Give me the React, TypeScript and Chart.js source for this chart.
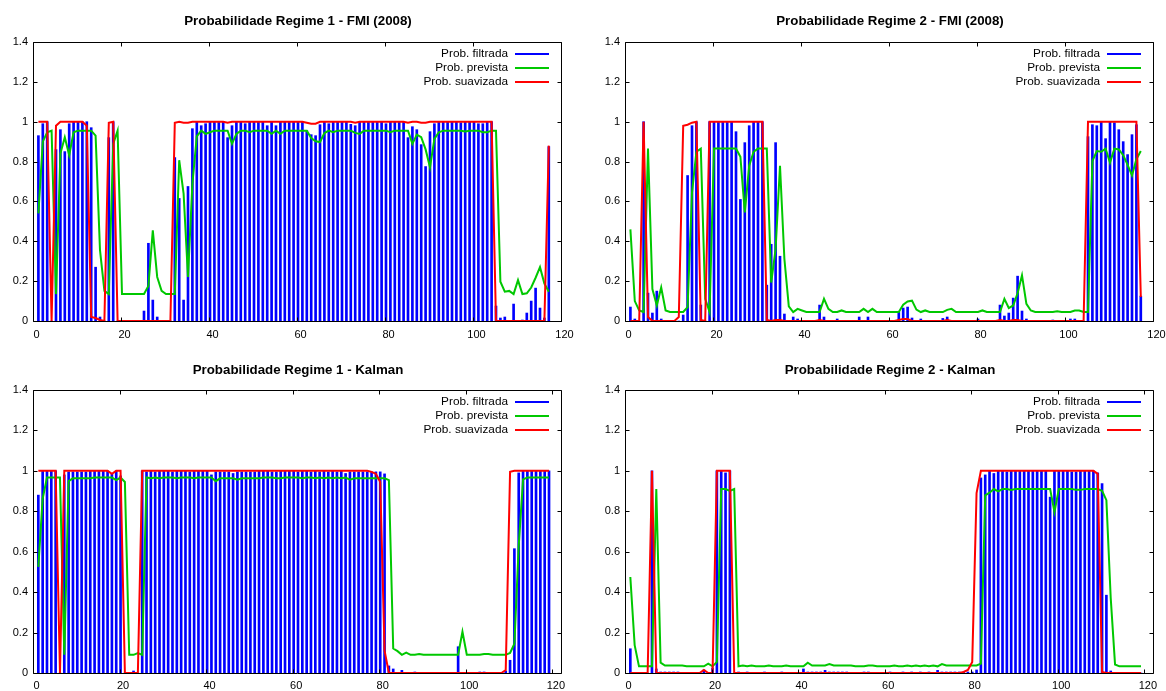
import React, { useEffect, useRef } from "react";
import { Chart, registerables } from "chart.js";

Chart.register(...registerables);

// ---------------- data ----------------
const SERIES_LABELS = ["Prob. filtrada", "Prob. prevista", "Prob. suavizada"];
const X_TICKS = [0, 20, 40, 60, 80, 100, 120];
const Y_TICKS = [0, 0.2, 0.4, 0.6, 0.8, 1, 1.2, 1.4];
const FMI_X_MAX = 120;
const KALMAN_X_MAX = 122;

const TITLE_FMI_R1 = "Probabilidade Regime 1 - FMI (2008)";
const TITLE_FMI_R2 = "Probabilidade Regime 2 - FMI (2008)";
const TITLE_KALMAN_R1 = "Probabilidade Regime 1 - Kalman";
const TITLE_KALMAN_R2 = "Probabilidade Regime 2 - Kalman";

// FMI (2008) - regime 1
const FMI_R1_FILTRADA = [
  0.93, 0.99, 1.0, 0.0, 0.86, 0.96, 0.85, 0.99, 1.0, 1.0,
  1.0, 1.0, 0.97, 0.27, 0.02, 0.0, 0.92, 1.0, 0.0, 0.0,
  0.0, 0.0, 0.0, 0.0, 0.05, 0.39, 0.105, 0.02, 0.0, 0.0,
  0.0, 0.82, 0.615, 0.105, 0.675, 0.965, 1.0, 0.98, 0.99, 1.0,
  1.0, 1.0, 1.0, 0.92, 0.98, 1.0, 1.0, 0.99, 1.0, 1.0,
  1.0, 1.0, 0.98, 1.0, 0.98, 1.0, 1.0, 1.0, 1.0, 1.0,
  1.0, 0.955, 0.935, 0.93, 0.985, 1.0, 0.99, 1.0, 1.0, 1.0,
  1.0, 0.987, 0.98, 1.0, 1.0, 1.0, 1.0, 1.0, 1.0, 0.99,
  1.0, 1.0, 1.0, 1.0, 0.92, 0.975, 0.96, 0.885, 0.775, 0.95,
  0.99, 1.0, 1.0, 1.0, 1.0, 1.0, 0.995, 1.0, 1.0, 1.0,
  0.99, 0.99, 1.0, 1.0, 0.075, 0.015, 0.02, 0.0, 0.085, 0.0,
  0.005, 0.04, 0.1, 0.165, 0.065, 0.015, 0.875,
];
const FMI_R1_PREVISTA = [
  0.54, 0.9, 0.947, 0.955, 0.135, 0.84, 0.922, 0.832, 0.947, 0.955,
  0.955, 0.955, 0.955, 0.93, 0.356, 0.151, 0.135, 0.889, 0.955, 0.135,
  0.135, 0.135, 0.135, 0.135, 0.135, 0.176, 0.455, 0.221, 0.151, 0.135,
  0.135, 0.135, 0.807, 0.639, 0.221, 0.689, 0.926, 0.955, 0.939, 0.947,
  0.955, 0.955, 0.955, 0.955, 0.889, 0.939, 0.955, 0.955, 0.947, 0.955,
  0.955, 0.955, 0.955, 0.939, 0.955, 0.939, 0.955, 0.955, 0.955, 0.955,
  0.955, 0.955, 0.918, 0.902, 0.898, 0.943, 0.955, 0.947, 0.955, 0.955,
  0.955, 0.955, 0.944, 0.939, 0.955, 0.955, 0.955, 0.955, 0.955, 0.955,
  0.947, 0.955, 0.955, 0.955, 0.955, 0.889, 0.935, 0.922, 0.861, 0.771,
  0.914, 0.947, 0.955, 0.955, 0.955, 0.955, 0.955, 0.951, 0.955, 0.955,
  0.955, 0.947, 0.947, 0.955, 0.955, 0.197, 0.147, 0.151, 0.135, 0.205,
  0.135, 0.139, 0.168, 0.217, 0.27, 0.188, 0.147,
];
const FMI_R1_SUAVIZADA = [
  1.0, 1.0, 1.0, 0.0, 0.98, 1.0, 1.0, 1.0, 1.0, 1.0,
  1.0, 0.98, 0.02, 0.015, 0.005, 0.0, 0.995, 1.0, 0.0, 0.0,
  0.0, 0.0, 0.0, 0.0, 0.0, 0.0, 0.0, 0.0, 0.0, 0.0,
  0.0, 0.995, 1.0, 0.995, 0.995, 1.0, 1.0, 1.0, 1.0, 1.0,
  1.0, 1.0, 1.0, 0.995, 1.0, 1.0, 1.0, 1.0, 1.0, 1.0,
  1.0, 1.0, 1.0, 1.0, 1.0, 1.0, 1.0, 1.0, 1.0, 1.0,
  1.0, 0.995, 0.99, 0.99, 1.0, 1.0, 1.0, 1.0, 1.0, 1.0,
  1.0, 1.0, 0.995, 1.0, 1.0, 1.0, 1.0, 1.0, 1.0, 1.0,
  1.0, 1.0, 1.0, 1.0, 0.995, 1.0, 1.0, 0.995, 0.995, 1.0,
  1.0, 1.0, 1.0, 1.0, 1.0, 1.0, 1.0, 1.0, 1.0, 1.0,
  1.0, 1.0, 1.0, 1.0, 0.0, 0.0, 0.0, 0.0, 0.0, 0.0,
  0.0, 0.0, 0.0, 0.0, 0.0, 0.0, 0.88,
];

// FMI (2008) - regime 2
const FMI_R2_FILTRADA = [
  0.07, 0.01, 0.0, 1.0, 0.14, 0.04, 0.15, 0.01, 0.0, 0.0,
  0.0, 0.0, 0.03, 0.73, 0.98, 1.0, 0.08, 0.0, 1.0, 1.0,
  1.0, 1.0, 1.0, 1.0, 0.95, 0.61, 0.895, 0.98, 1.0, 1.0,
  1.0, 0.18, 0.385, 0.895, 0.325, 0.035, 0.0, 0.02, 0.01, 0.0,
  0.0, 0.0, 0.0, 0.08, 0.02, 0.0, 0.0, 0.01, 0.0, 0.0,
  0.0, 0.0, 0.02, 0.0, 0.02, 0.0, 0.0, 0.0, 0.0, 0.0,
  0.0, 0.045, 0.065, 0.07, 0.015, 0.0, 0.01, 0.0, 0.0, 0.0,
  0.0, 0.013, 0.02, 0.0, 0.0, 0.0, 0.0, 0.0, 0.0, 0.01,
  0.0, 0.0, 0.0, 0.0, 0.08, 0.025, 0.04, 0.115, 0.225, 0.05,
  0.01, 0.0, 0.0, 0.0, 0.0, 0.0, 0.005, 0.0, 0.0, 0.0,
  0.01, 0.01, 0.0, 0.0, 0.925, 0.985, 0.98, 1.0, 0.915, 1.0,
  0.995, 0.96, 0.9, 0.835, 0.935, 0.985, 0.125,
];
const FMI_R2_PREVISTA = [
  0.46, 0.1, 0.053, 0.045, 0.865, 0.16, 0.078, 0.168, 0.053, 0.045,
  0.045, 0.045, 0.045, 0.07, 0.644, 0.849, 0.865, 0.111, 0.045, 0.865,
  0.865, 0.865, 0.865, 0.865, 0.865, 0.824, 0.545, 0.779, 0.849, 0.865,
  0.865, 0.865, 0.193, 0.361, 0.779, 0.311, 0.074, 0.045, 0.061, 0.053,
  0.045, 0.045, 0.045, 0.045, 0.111, 0.061, 0.045, 0.045, 0.053, 0.045,
  0.045, 0.045, 0.045, 0.061, 0.045, 0.061, 0.045, 0.045, 0.045, 0.045,
  0.045, 0.045, 0.082, 0.098, 0.102, 0.057, 0.045, 0.053, 0.045, 0.045,
  0.045, 0.045, 0.056, 0.061, 0.045, 0.045, 0.045, 0.045, 0.045, 0.045,
  0.053, 0.045, 0.045, 0.045, 0.045, 0.111, 0.065, 0.078, 0.139, 0.229,
  0.086, 0.053, 0.045, 0.045, 0.045, 0.045, 0.045, 0.049, 0.045, 0.045,
  0.045, 0.053, 0.053, 0.045, 0.045, 0.803, 0.853, 0.849, 0.865, 0.795,
  0.865, 0.861, 0.832, 0.783, 0.73, 0.812, 0.853,
];
const FMI_R2_SUAVIZADA = [
  0.0, 0.0, 0.0, 1.0, 0.02, 0.0, 0.0, 0.0, 0.0, 0.0,
  0.0, 0.02, 0.98, 0.985, 0.995, 1.0, 0.005, 0.0, 1.0, 1.0,
  1.0, 1.0, 1.0, 1.0, 1.0, 1.0, 1.0, 1.0, 1.0, 1.0,
  1.0, 0.005, 0.0, 0.005, 0.005, 0.0, 0.0, 0.0, 0.0, 0.0,
  0.0, 0.0, 0.0, 0.005, 0.0, 0.0, 0.0, 0.0, 0.0, 0.0,
  0.0, 0.0, 0.0, 0.0, 0.0, 0.0, 0.0, 0.0, 0.0, 0.0,
  0.0, 0.005, 0.01, 0.01, 0.0, 0.0, 0.0, 0.0, 0.0, 0.0,
  0.0, 0.0, 0.005, 0.0, 0.0, 0.0, 0.0, 0.0, 0.0, 0.0,
  0.0, 0.0, 0.0, 0.0, 0.005, 0.0, 0.0, 0.005, 0.005, 0.0,
  0.0, 0.0, 0.0, 0.0, 0.0, 0.0, 0.0, 0.0, 0.0, 0.0,
  0.0, 0.0, 0.0, 0.0, 1.0, 1.0, 1.0, 1.0, 1.0, 1.0,
  1.0, 1.0, 1.0, 1.0, 1.0, 1.0, 0.12,
];

// Kalman - regime 1
const KALMAN_R1_FILTRADA = [
  0.88, 1.0, 1.0, 1.0, 1.0, 0.0, 0.98, 0.995, 0.995, 0.995,
  0.995, 0.995, 1.0, 1.0, 1.0, 1.0, 1.0, 0.985, 1.0, 0.975,
  0.0, 0.0, 0.01, 0.0, 1.0, 0.995, 1.0, 0.995, 1.0, 1.0,
  1.0, 0.995, 1.0, 1.0, 1.0, 0.995, 1.0, 1.0, 1.0, 1.0,
  0.98, 0.995, 0.995, 0.995, 0.995, 0.987, 0.995, 0.995, 0.995, 0.995,
  0.995, 1.0, 1.0, 1.0, 0.995, 0.995, 1.0, 1.0, 1.0, 1.0,
  0.995, 1.0, 1.0, 0.995, 1.0, 0.995, 1.0, 0.995, 1.0, 0.995,
  1.0, 0.987, 0.995, 0.995, 0.995, 0.995, 0.995, 0.995, 0.995, 0.995,
  0.985, 0.035, 0.02, 0.0, 0.013, 0.0, 0.0, 0.005, 0.0, 0.0,
  0.0, 0.0, 0.0, 0.0, 0.0, 0.0, 0.0, 0.13, 0.0, 0.0,
  0.0, 0.0, 0.005, 0.005, 0.0, 0.0, 0.0, 0.0, 0.01, 0.063,
  0.615, 0.99, 1.0, 1.0, 1.0, 1.0, 1.0, 1.0, 1.0,
];
const KALMAN_R1_PREVISTA = [
  0.525, 0.862, 0.967, 0.967, 0.967, 0.967, 0.09, 0.949, 0.963, 0.963,
  0.963, 0.963, 0.963, 0.967, 0.967, 0.967, 0.967, 0.967, 0.954, 0.967,
  0.945, 0.09, 0.09, 0.099, 0.09, 0.967, 0.963, 0.967, 0.963, 0.967,
  0.967, 0.967, 0.963, 0.967, 0.967, 0.967, 0.963, 0.967, 0.967, 0.967,
  0.967, 0.949, 0.963, 0.963, 0.963, 0.963, 0.956, 0.963, 0.963, 0.963,
  0.963, 0.963, 0.967, 0.967, 0.967, 0.963, 0.963, 0.967, 0.967, 0.967,
  0.967, 0.963, 0.967, 0.967, 0.963, 0.967, 0.963, 0.967, 0.963, 0.967,
  0.963, 0.967, 0.956, 0.963, 0.963, 0.963, 0.963, 0.963, 0.963, 0.963,
  0.963, 0.954, 0.121, 0.108, 0.09, 0.101, 0.09, 0.09, 0.094, 0.09,
  0.09, 0.09, 0.09, 0.09, 0.09, 0.09, 0.09, 0.09, 0.204, 0.09,
  0.09, 0.09, 0.09, 0.094, 0.094, 0.09, 0.09, 0.09, 0.09, 0.099,
  0.145, 0.629, 0.958, 0.967, 0.967, 0.967, 0.967, 0.967, 0.967,
];
const KALMAN_R1_SUAVIZADA = [
  1.0, 1.0, 1.0, 1.0, 1.0, 0.0, 1.0, 1.0, 1.0, 1.0,
  1.0, 1.0, 1.0, 1.0, 1.0, 1.0, 1.0, 0.985, 1.0, 1.0,
  0.0, 0.0, 0.0, 0.0, 1.0, 1.0, 1.0, 1.0, 1.0, 1.0,
  1.0, 1.0, 1.0, 1.0, 1.0, 1.0, 1.0, 1.0, 1.0, 1.0,
  1.0, 1.0, 1.0, 1.0, 1.0, 1.0, 1.0, 1.0, 1.0, 1.0,
  1.0, 1.0, 1.0, 1.0, 1.0, 1.0, 1.0, 1.0, 1.0, 1.0,
  1.0, 1.0, 1.0, 1.0, 1.0, 1.0, 1.0, 1.0, 1.0, 1.0,
  1.0, 1.0, 1.0, 1.0, 1.0, 1.0, 1.0, 0.995, 0.985, 0.945,
  0.11, 0.0, 0.0, 0.0, 0.0, 0.0, 0.0, 0.0, 0.0, 0.0,
  0.0, 0.0, 0.0, 0.0, 0.0, 0.0, 0.0, 0.0, 0.0, 0.0,
  0.0, 0.0, 0.0, 0.0, 0.0, 0.0, 0.0, 0.0, 0.015, 0.995,
  1.0, 1.0, 1.0, 1.0, 1.0, 1.0, 1.0, 1.0, 1.0,
];

// Kalman - regime 2
const KALMAN_R2_FILTRADA = [
  0.12, 0.0, 0.0, 0.0, 0.0, 1.0, 0.02, 0.005, 0.005, 0.005,
  0.005, 0.005, 0.0, 0.0, 0.0, 0.0, 0.0, 0.015, 0.0, 0.025,
  1.0, 1.0, 0.99, 1.0, 0.0, 0.005, 0.0, 0.005, 0.0, 0.0,
  0.0, 0.005, 0.0, 0.0, 0.0, 0.005, 0.0, 0.0, 0.0, 0.0,
  0.02, 0.005, 0.005, 0.005, 0.005, 0.013, 0.005, 0.005, 0.005, 0.005,
  0.005, 0.0, 0.0, 0.0, 0.005, 0.005, 0.0, 0.0, 0.0, 0.0,
  0.005, 0.0, 0.0, 0.005, 0.0, 0.005, 0.0, 0.005, 0.0, 0.005,
  0.0, 0.013, 0.005, 0.005, 0.005, 0.005, 0.005, 0.005, 0.005, 0.005,
  0.015, 0.965, 0.98, 1.0, 0.987, 1.0, 1.0, 0.995, 1.0, 1.0,
  1.0, 1.0, 1.0, 1.0, 1.0, 1.0, 1.0, 0.87, 1.0, 1.0,
  1.0, 1.0, 0.995, 0.995, 1.0, 1.0, 1.0, 1.0, 0.99, 0.937,
  0.385, 0.01, 0.0, 0.0, 0.0, 0.0, 0.0, 0.0, 0.0,
];
const KALMAN_R2_PREVISTA = [
  0.475, 0.138, 0.033, 0.033, 0.033, 0.033, 0.91, 0.051, 0.037, 0.037,
  0.037, 0.037, 0.037, 0.033, 0.033, 0.033, 0.033, 0.033, 0.046, 0.033,
  0.055, 0.91, 0.91, 0.901, 0.91, 0.033, 0.037, 0.033, 0.037, 0.033,
  0.033, 0.033, 0.037, 0.033, 0.033, 0.033, 0.037, 0.033, 0.033, 0.033,
  0.033, 0.051, 0.037, 0.037, 0.037, 0.037, 0.044, 0.037, 0.037, 0.037,
  0.037, 0.037, 0.033, 0.033, 0.033, 0.037, 0.037, 0.033, 0.033, 0.033,
  0.033, 0.037, 0.033, 0.033, 0.037, 0.033, 0.037, 0.033, 0.037, 0.033,
  0.037, 0.033, 0.044, 0.037, 0.037, 0.037, 0.037, 0.037, 0.037, 0.037,
  0.037, 0.046, 0.879, 0.892, 0.91, 0.899, 0.91, 0.91, 0.906, 0.91,
  0.91, 0.91, 0.91, 0.91, 0.91, 0.91, 0.91, 0.91, 0.796, 0.91,
  0.91, 0.91, 0.91, 0.906, 0.906, 0.91, 0.91, 0.91, 0.91, 0.901,
  0.855, 0.371, 0.042, 0.033, 0.033, 0.033, 0.033, 0.033, 0.033,
];
const KALMAN_R2_SUAVIZADA = [
  0.0, 0.0, 0.0, 0.0, 0.0, 1.0, 0.0, 0.0, 0.0, 0.0,
  0.0, 0.0, 0.0, 0.0, 0.0, 0.0, 0.0, 0.015, 0.0, 0.0,
  1.0, 1.0, 1.0, 1.0, 0.0, 0.0, 0.0, 0.0, 0.0, 0.0,
  0.0, 0.0, 0.0, 0.0, 0.0, 0.0, 0.0, 0.0, 0.0, 0.0,
  0.0, 0.0, 0.0, 0.0, 0.0, 0.0, 0.0, 0.0, 0.0, 0.0,
  0.0, 0.0, 0.0, 0.0, 0.0, 0.0, 0.0, 0.0, 0.0, 0.0,
  0.0, 0.0, 0.0, 0.0, 0.0, 0.0, 0.0, 0.0, 0.0, 0.0,
  0.0, 0.0, 0.0, 0.0, 0.0, 0.0, 0.0, 0.005, 0.015, 0.055,
  0.89, 1.0, 1.0, 1.0, 1.0, 1.0, 1.0, 1.0, 1.0, 1.0,
  1.0, 1.0, 1.0, 1.0, 1.0, 1.0, 1.0, 1.0, 1.0, 1.0,
  1.0, 1.0, 1.0, 1.0, 1.0, 1.0, 1.0, 1.0, 0.985, 0.005,
  0.0, 0.0, 0.0, 0.0, 0.0, 0.0, 0.0, 0.0, 0.0,
];

// observation periods (x = 1..N)
const FMI_PERIODS = FMI_R1_FILTRADA.map((_, i) => i + 1);
const KALMAN_PERIODS = KALMAN_R1_FILTRADA.map((_, i) => i + 1);

// ---------------- styles / layout ----------------
const FONT = '"Liberation Sans", Arial, Helvetica, sans-serif';
const COLORS = ["#0000ff", "#00c800", "#ff0000"];
const Y_AXIS_W = 34;
const TICK_LEN = 4;
const LEGEND_Y = [12, 26, 40];

const PANELS: any[] = [
  {
    title: TITLE_FMI_R1, periods: FMI_PERIODS, xMax: FMI_X_MAX,
    series: [FMI_R1_FILTRADA, FMI_R1_PREVISTA, FMI_R1_SUAVIZADA],
    box: { left: 0, top: 0, width: 583, height: 345 },
    area: { left: 34, right: 562, top: 42, bottom: 321 },
    titleY: 21, labelPad: 7.5,
  },
  {
    title: TITLE_FMI_R2, periods: FMI_PERIODS, xMax: FMI_X_MAX,
    series: [FMI_R2_FILTRADA, FMI_R2_PREVISTA, FMI_R2_SUAVIZADA],
    box: { left: 583, top: 0, width: 603, height: 345 },
    area: { left: 43, right: 571, top: 42, bottom: 321 },
    titleY: 21, labelPad: 7.5,
  },
  {
    title: TITLE_KALMAN_R1, periods: KALMAN_PERIODS, xMax: KALMAN_X_MAX,
    series: [KALMAN_R1_FILTRADA, KALMAN_R1_PREVISTA, KALMAN_R1_SUAVIZADA],
    box: { left: 0, top: 345, width: 583, height: 346 },
    area: { left: 34, right: 562, top: 45, bottom: 328 },
    titleY: 25, labelPad: 6.2,
  },
  {
    title: TITLE_KALMAN_R2, periods: KALMAN_PERIODS, xMax: KALMAN_X_MAX,
    series: [KALMAN_R2_FILTRADA, KALMAN_R2_PREVISTA, KALMAN_R2_SUAVIZADA],
    box: { left: 583, top: 345, width: 603, height: 346 },
    area: { left: 43, right: 571, top: 45, bottom: 328 },
    titleY: 25, labelPad: 6.2,
  },
];

const gnuplotFrame = {
  id: "gnuplotFrame",
  afterDraw(chart: any, _args: any, opts: any) {
    const { ctx, chartArea: a } = chart;
    const xs = chart.scales.x;
    const ys = chart.scales.y;
    const L = a.left - 0.5, R = a.right - 0.5, T = a.top + 0.5, B = a.bottom + 0.5;
    ctx.save();
    ctx.strokeStyle = "#000";
    ctx.lineWidth = 1;
    ctx.beginPath();
    ctx.rect(L, T, R - L, B - T);
    xs.ticks.forEach((t: any) => {
      const px = Math.round(xs.getPixelForValue(t.value)) - 0.5;
      ctx.moveTo(px, B); ctx.lineTo(px, B - TICK_LEN);
      ctx.moveTo(px, T); ctx.lineTo(px, T + TICK_LEN);
    });
    ys.ticks.forEach((t: any) => {
      const py = Math.round(ys.getPixelForValue(t.value)) + 0.5;
      ctx.moveTo(L, py); ctx.lineTo(L + TICK_LEN, py);
      ctx.moveTo(R, py); ctx.lineTo(R - TICK_LEN, py);
    });
    ctx.stroke();

    // title
    ctx.fillStyle = "#000";
    ctx.font = `bold 13.3px ${FONT}`;
    ctx.textAlign = "center";
    ctx.textBaseline = "middle";
    ctx.fillText(opts.title, (a.left + a.right) / 2, opts.titleY);

    // legend (gnuplot style: text right-aligned, sample line to the right)
    ctx.font = `11.8px ${FONT}`;
    ctx.textAlign = "right";
    chart.data.datasets.forEach((ds: any, j: number) => {
      const y = a.top + LEGEND_Y[j];
      ctx.fillStyle = "#000";
      ctx.fillText(ds.label, a.right - 54, y);
      ctx.strokeStyle = COLORS[j];
      ctx.lineWidth = 2;
      ctx.beginPath();
      ctx.moveTo(a.right - 47, y);
      ctx.lineTo(a.right - 13, y);
      ctx.stroke();
    });
    ctx.restore();
  },
};

function buildConfig(p: any): any {
  const pts = (vals: number[]) => vals.map((v, i) => ({ x: p.periods[i], y: v }));
  const { box, area } = p;
  return {
    type: "bar",
    data: {
      datasets: [
        {
          type: "bar", label: SERIES_LABELS[0], data: pts(p.series[0]),
          backgroundColor: COLORS[0], borderWidth: 0, barThickness: 2, order: 3,
        },
        {
          type: "line", label: SERIES_LABELS[1], data: pts(p.series[1]),
          borderColor: COLORS[1], borderWidth: 2, pointRadius: 0, tension: 0, fill: false, order: 2,
        },
        {
          type: "line", label: SERIES_LABELS[2], data: pts(p.series[2]),
          borderColor: COLORS[2], borderWidth: 2, pointRadius: 0, tension: 0, fill: false, order: 1,
        },
      ],
    },
    options: {
      animation: false,
      responsive: false,
      devicePixelRatio: 1,
      events: [],
      layout: {
        padding: {
          left: area.left - Y_AXIS_W,
          right: box.width - area.right,
          top: area.top,
          bottom: 0,
        },
      },
      plugins: {
        legend: { display: false },
        title: { display: false },
        tooltip: { enabled: false },
        gnuplotFrame: { title: p.title, titleY: p.titleY },
      },
      scales: {
        x: {
          type: "linear", min: 0, max: p.xMax, offset: false,
          grid: { display: false, drawTicks: false },
          border: { display: false },
          afterBuildTicks: (s: any) => { s.ticks = X_TICKS.map((v) => ({ value: v })); },
          afterFit: (s: any) => { s.height = box.height - area.bottom; },
          ticks: {
            font: { family: FONT, size: 11 }, color: "#000", padding: p.labelPad,
            labelOffset: 2.5, maxRotation: 0, autoSkip: false,
            callback: (v: any) => String(v),
          },
        },
        y: {
          type: "linear", min: 0, max: 1.4,
          grid: { display: false, drawTicks: false },
          border: { display: false },
          afterBuildTicks: (s: any) => { s.ticks = Y_TICKS.map((v) => ({ value: v })); },
          afterFit: (s: any) => { s.width = Y_AXIS_W; },
          ticks: {
            font: { family: FONT, size: 11 }, color: "#000", padding: 6,
            callback: (v: any) => String(Math.round(v * 10) / 10),
          },
        },
      },
    },
    plugins: [gnuplotFrame],
  };
}

function Panel({ cfg }: { cfg: any }) {
  const ref = useRef<HTMLCanvasElement | null>(null);
  useEffect(() => {
    const chart = new Chart(ref.current as HTMLCanvasElement, buildConfig(cfg));
    return () => chart.destroy();
  }, [cfg]);
  const { box } = cfg;
  return (
    <canvas
      ref={ref}
      width={box.width}
      height={box.height}
      style={{ position: "absolute", left: box.left, top: box.top, width: box.width, height: box.height }}
    />
  );
}

export default function App() {
  return (
    <div style={{ position: "absolute", left: 0, top: 0, width: 1166, height: 691, background: "#fff", overflow: "hidden" }}>
      {PANELS.map((p, i) => (
        <Panel key={i} cfg={p} />
      ))}
    </div>
  );
}
